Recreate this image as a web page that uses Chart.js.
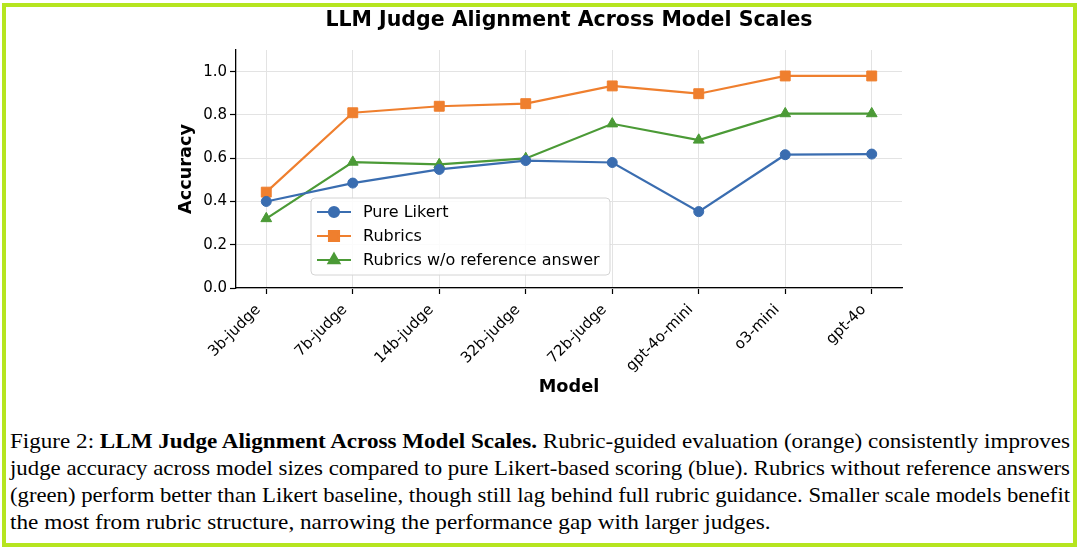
<!DOCTYPE html>
<html>
<head>
<meta charset="utf-8">
<script src="https://cdn.jsdelivr.net/npm/chart.js@4.4.0/dist/chart.umd.min.js"></script>
<style>
  html, body { margin:0; padding:0; background:#fff; width:1080px; height:549px; overflow:hidden; }
  #frame { position:absolute; left:2px; top:3px; width:1075px; height:544px; border:4px solid #b6e51f; box-sizing:border-box; }
  #c { position:absolute; left:0; top:0; }
  #caption { position:absolute; left:10px; top:428px; width:1060px; font-family:"Liberation Serif","Times New Roman",serif; font-size:21px; line-height:27px; color:#000; }
  #caption div { height:27px; }
  #caption span { display:inline-block; white-space:nowrap; transform-origin:0 0; }
</style>
</head>
<body>
<div id="frame"></div>
<canvas id="c" width="1080" height="415"></canvas>
<div id="caption">
  <div><span>Figure 2: <b>LLM Judge Alignment Across Model Scales.</b> Rubric-guided evaluation (orange) consistently improves</span></div>
  <div><span>judge accuracy across model sizes compared to pure Likert-based scoring (blue). Rubrics without reference answers</span></div>
  <div><span>(green) perform better than Likert baseline, though still lag behind full rubric guidance. Smaller scale models benefit</span></div>
  <div><span class="last">the most from rubric structure, narrowing the performance gap with larger judges.</span></div>
</div>
<script>
document.querySelectorAll('#caption span').forEach(sp => {
  const w = sp.getBoundingClientRect().width;
  const s = sp.classList.contains('last') ? 1.105 : 1060 / w;
  sp.style.transform = 'scaleX(' + s + ')';
});

const categories = ['3b-judge','7b-judge','14b-judge','32b-judge','72b-judge','gpt-4o-mini','o3-mini','gpt-4o'];
const pureLikert = [0.400, 0.485, 0.548, 0.589, 0.580, 0.353, 0.616, 0.619];
const rubrics = [0.443, 0.810, 0.840, 0.852, 0.934, 0.898, 0.980, 0.980];
const rubricsNoRef = [0.321, 0.582, 0.571, 0.599, 0.759, 0.684, 0.806, 0.806];
const yTicks = [0.0, 0.2, 0.4, 0.6, 0.8, 1.0];
const seriesNames = ['Pure Likert', 'Rubrics', 'Rubrics w/o reference answer'];

const toXY = arr => arr.map((v, i) => ({x: i, y: v}));

Chart.defaults.font.family = 'DejaVu Sans';
Chart.defaults.color = '#000';

const legendPlugin = {
  id: 'innerLegend',
  afterDatasetsDraw(chart) {
    const ctx = chart.ctx;
    const a = chart.chartArea;
    const left = a.left + 75, top = a.top + 148, w = 299, h = 77;
    ctx.save();
    ctx.beginPath();
    ctx.roundRect(left, top, w, h, 4);
    ctx.fillStyle = 'rgba(255,255,255,0.85)';
    ctx.fill();
    ctx.strokeStyle = '#d4d4d4';
    ctx.lineWidth = 1;
    ctx.stroke();
    chart.data.datasets.forEach((ds, i) => {
      const y = top + 14 + i * 24;
      ctx.beginPath();
      ctx.strokeStyle = ds.borderColor;
      ctx.lineWidth = ds.borderWidth;
      ctx.moveTo(left + 6, y);
      ctx.lineTo(left + 40, y);
      ctx.stroke();
      ctx.fillStyle = ds.backgroundColor;
      ctx.strokeStyle = ds.borderColor;
      Chart.helpers.drawPoint(ctx, {pointStyle: ds.pointStyle, radius: ds.pointRadius, rotation: 0, borderWidth: 1}, left + 23, y);
      ctx.fillStyle = '#000';
      ctx.font = '16px "DejaVu Sans"';
      ctx.textBaseline = 'middle';
      ctx.textAlign = 'left';
      ctx.fillText(ds.label, left + 52, y + 1);
    });
    ctx.restore();
  }
};

const mk = (label, data, color, style, r) => ({
  label, data: toXY(data), borderColor: color, backgroundColor: color,
  borderWidth: 2.2, pointStyle: style, pointRadius: r, pointHoverRadius: r,
  pointBorderWidth: 1, pointBorderColor: color, pointBackgroundColor: color, tension: 0
});

new Chart(document.getElementById('c'), {
  type: 'line',
  data: {
    datasets: [
      mk(seriesNames[0], pureLikert, '#3a6db0', 'circle', 5),
      mk(seriesNames[1], rubrics, '#ef7f2e', 'rect', 7),
      mk(seriesNames[2], rubricsNoRef, '#4b9a36', 'triangle', 6.2)
    ]
  },
  options: {
    responsive: false,
    animation: false,
    layout: { padding: { left: 170, right: 178, top: 0, bottom: 0 } },
    plugins: {
      legend: { display: false },
      tooltip: { enabled: false },
      title: {
        display: true, fullSize: false,
        text: 'LLM Judge Alignment Across Model Scales',
        font: { size: 20.5, weight: 'bold', family: 'DejaVu Sans' },
        color: '#000',
        padding: { top: 8, bottom: 17.4 }
      }
    },
    scales: {
      x: {
        type: 'linear', min: -0.35, max: 7.35,
        afterBuildTicks: s => { s.ticks = categories.map((_, i) => ({value: i})); },
        afterFit: s => { s.height = 127; },
        ticks: {
          autoSkip: false, minRotation: 45, maxRotation: 45,
          font: { size: 15 }, color: '#000', padding: 7, labelOffset: -8,
          callback: v => categories[v]
        },
        grid: { color: '#e3e3e3', lineWidth: 1, drawTicks: true, tickLength: 6, tickColor: '#000', tickWidth: 1.2 },
        border: { display: true, color: '#000', width: 1.3 },
        title: { display: true, text: 'Model', font: { size: 17.7, weight: 'bold' }, color: '#000', padding: { top: 0, bottom: 17.4 } }
      },
      y: {
        min: 0, max: 1.1,
        afterBuildTicks: s => { s.ticks = yTicks.map(v => ({value: v})); },
        afterFit: s => { s.width = 66; },
        ticks: { font: { size: 15 }, color: '#000', padding: 3, callback: v => Number(v).toFixed(1) },
        grid: { color: '#e3e3e3', lineWidth: 1, drawTicks: true, tickLength: 6, tickColor: '#000', tickWidth: 1.2 },
        border: { display: true, color: '#000', width: 1.3 },
        title: { display: true, text: 'Accuracy', font: { size: 17.7, weight: 'bold' }, color: '#000', padding: { top: 6, bottom: 0 } }
      }
    }
  },
  plugins: [legendPlugin]
});
</script>
</body>
</html>
